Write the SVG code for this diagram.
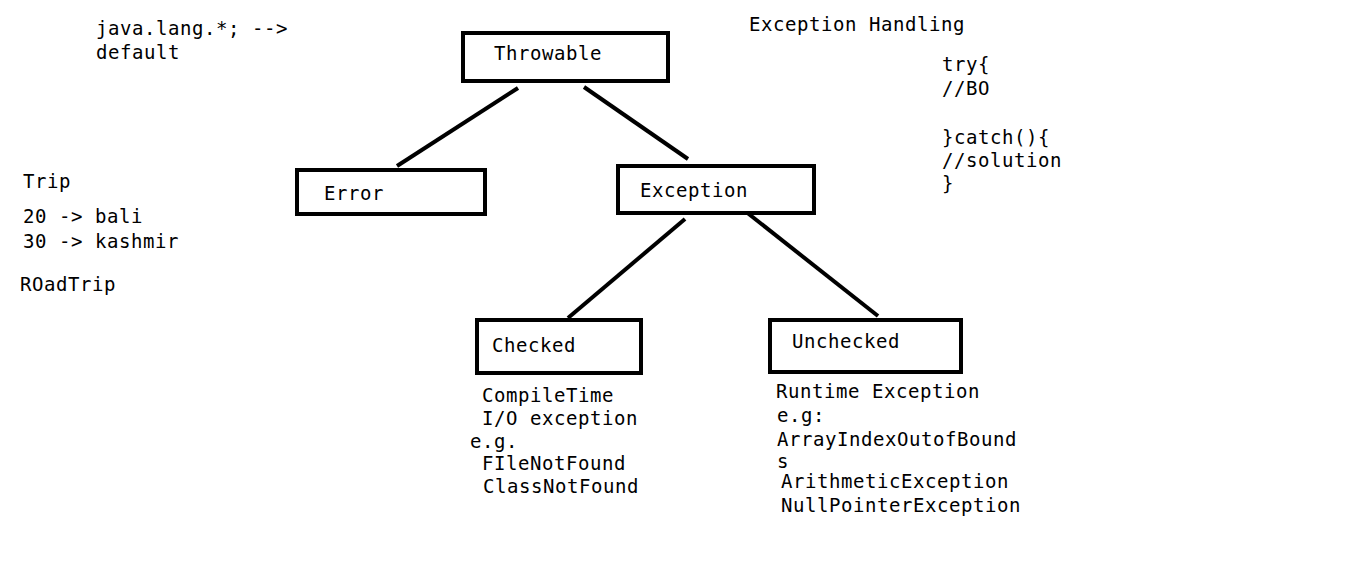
<svg xmlns="http://www.w3.org/2000/svg" width="1360" height="568" viewBox="0 0 1360 568">
<style>
text{font-family:"DejaVu Sans Mono","Liberation Mono",monospace;font-size:19px;letter-spacing:0.56px;fill:#000}
.box{fill:#fff;stroke:#000;stroke-width:4}
.con line{stroke:#000;stroke-width:4}
</style>
<rect width="1360" height="568" fill="#fff"/>
<g class="con" id="connectors">
<line x1="518" y1="88" x2="397" y2="166"/>
<line x1="584" y1="87" x2="688" y2="159"/>
<line x1="685" y1="219" x2="568" y2="318"/>
<line x1="745" y1="211" x2="878" y2="316"/>
</g>
<g id="throwable"><rect class="box" x="463" y="33" width="205" height="48"/><text x="494" y="60">Throwable</text></g>
<g id="error"><rect class="box" x="297" y="170" width="188" height="44"/><text x="324" y="200">Error</text></g>
<g id="exception"><rect class="box" x="618" y="166" width="196" height="47"/><text x="640" y="197">Exception</text></g>
<g id="checked"><rect class="box" x="477" y="320" width="164" height="53"/><text x="492" y="352">Checked</text></g>
<g id="unchecked"><rect class="box" x="770" y="320" width="191" height="52"/><text x="792" y="348">Unchecked</text></g>
<g id="notes">
<text x="96" y="35">java.lang.*; --&gt;</text>
<text x="96" y="59">default</text>
<text x="23" y="188">Trip</text>
<text x="23" y="223">20 -&gt; bali</text>
<text x="23" y="248">30 -&gt; kashmir</text>
<text x="20" y="291">ROadTrip</text>
<text x="749" y="31">Exception Handling</text>
<text x="942" y="71">try{</text>
<text x="942" y="95">//BO</text>
<text x="942" y="144">}catch(){</text>
<text x="942" y="167">//solution</text>
<text x="942" y="190">}</text>
<text x="482" y="402">CompileTime</text>
<text x="482" y="425">I/O exception</text>
<text x="470" y="448">e.g.</text>
<text x="482" y="470">FIleNotFound</text>
<text x="483" y="493">ClassNotFound</text>
<text x="776" y="398">Runtime Exception</text>
<text x="777" y="422">e.g:</text>
<text x="777" y="446">ArrayIndexOutofBound</text>
<text x="777" y="468">s</text>
<text x="781" y="488">ArithmeticException</text>
<text x="781" y="512">NullPointerException</text>
</g>
</svg>
